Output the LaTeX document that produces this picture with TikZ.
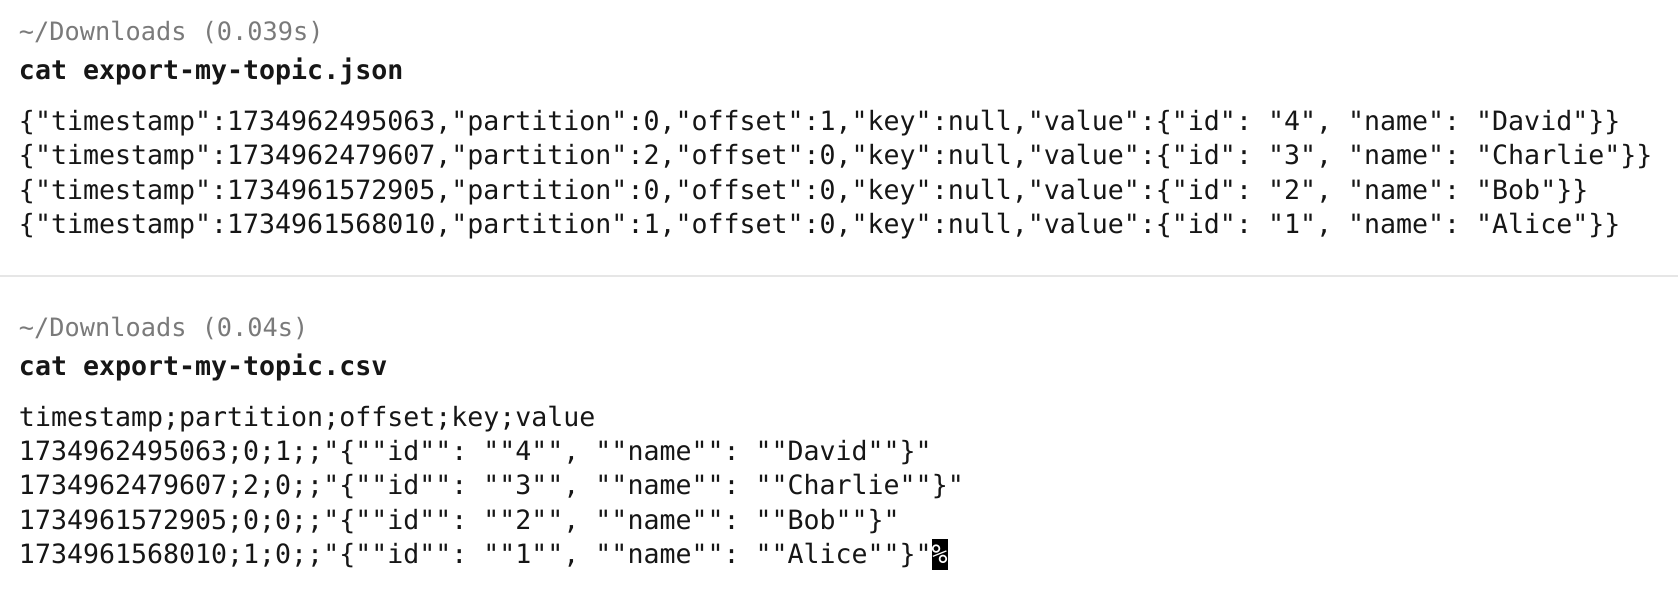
\documentclass[tikz,border=0pt]{standalone}
\usepackage{fontspec}
\setmonofont{DejaVu Sans Mono}
\definecolor{hdr}{HTML}{7A7A7A}
\definecolor{txt}{HTML}{161616}
\definecolor{divc}{HTML}{E6E6E6}
\tikzset{
  line/.style={anchor=base west,inner sep=0pt,outer sep=0pt,text=txt,font=\fontsize{26.6}{30}\ttfamily},
  hdrline/.style={anchor=base west,inner sep=0pt,outer sep=0pt,text=hdr,font=\fontsize{25.3}{30}\ttfamily},
  cmdline/.style={anchor=base west,inner sep=0pt,outer sep=0pt,text=txt,font=\fontsize{26.6}{30}\ttfamily\bfseries},
}
\begin{document}
\begin{tikzpicture}[x=1pt,y=-1pt]
\useasboundingbox (0,0) rectangle (1678,596);
\fill[white] (0,0) rectangle (1678,596);
% block 1
\node[hdrline] (h1) at (19,41) {\string~/Downloads (0.039s)};
\node[cmdline] (c1) at (19,79.5) {cat export-my-topic.json};
\node[line] (j1) at (19,130.5) {\{"timestamp":1734962495063,"partition":0,"offset":1,"key":null,"value":\{"id": "4", "name": "David"\}\}};
\node[line] (j2) at (19,164.8) {\{"timestamp":1734962479607,"partition":2,"offset":0,"key":null,"value":\{"id": "3", "name": "Charlie"\}\}};
\node[line] (j3) at (19,199.1) {\{"timestamp":1734961572905,"partition":0,"offset":0,"key":null,"value":\{"id": "2", "name": "Bob"\}\}};
\node[line] (j4) at (19,233.4) {\{"timestamp":1734961568010,"partition":1,"offset":0,"key":null,"value":\{"id": "1", "name": "Alice"\}\}};
% divider
\draw[divc,line width=2pt] (0,276) -- (1678,276);
% block 2
\node[hdrline] (h2) at (19,336) {\string~/Downloads (0.04s)};
\node[cmdline] (c2) at (19,375.5) {cat export-my-topic.csv};
\node[line] (s0) at (19,426.3) {timestamp;partition;offset;key;value};
\node[line] (s1) at (19,460.6) {1734962495063;0;1;;"\{""id"": ""4"", ""name"": ""David""\}"};
\node[line] (s2) at (19,494.9) {1734962479607;2;0;;"\{""id"": ""3"", ""name"": ""Charlie""\}"};
\node[line] (s3) at (19,529.2) {1734961572905;0;0;;"\{""id"": ""2"", ""name"": ""Bob""\}"};
\node[line] (s4) at (19,563.5) {1734961568010;1;0;;"\{""id"": ""1"", ""name"": ""Alice""\}"};
% cursor
\fill[black] (931.5,539) rectangle (947.5,570);
\node[anchor=base west,inner sep=0pt,text=white,font=\fontsize{26.6}{30}\ttfamily] (cur) at (931.5,563.5) {\%};
\end{tikzpicture}
\end{document}
